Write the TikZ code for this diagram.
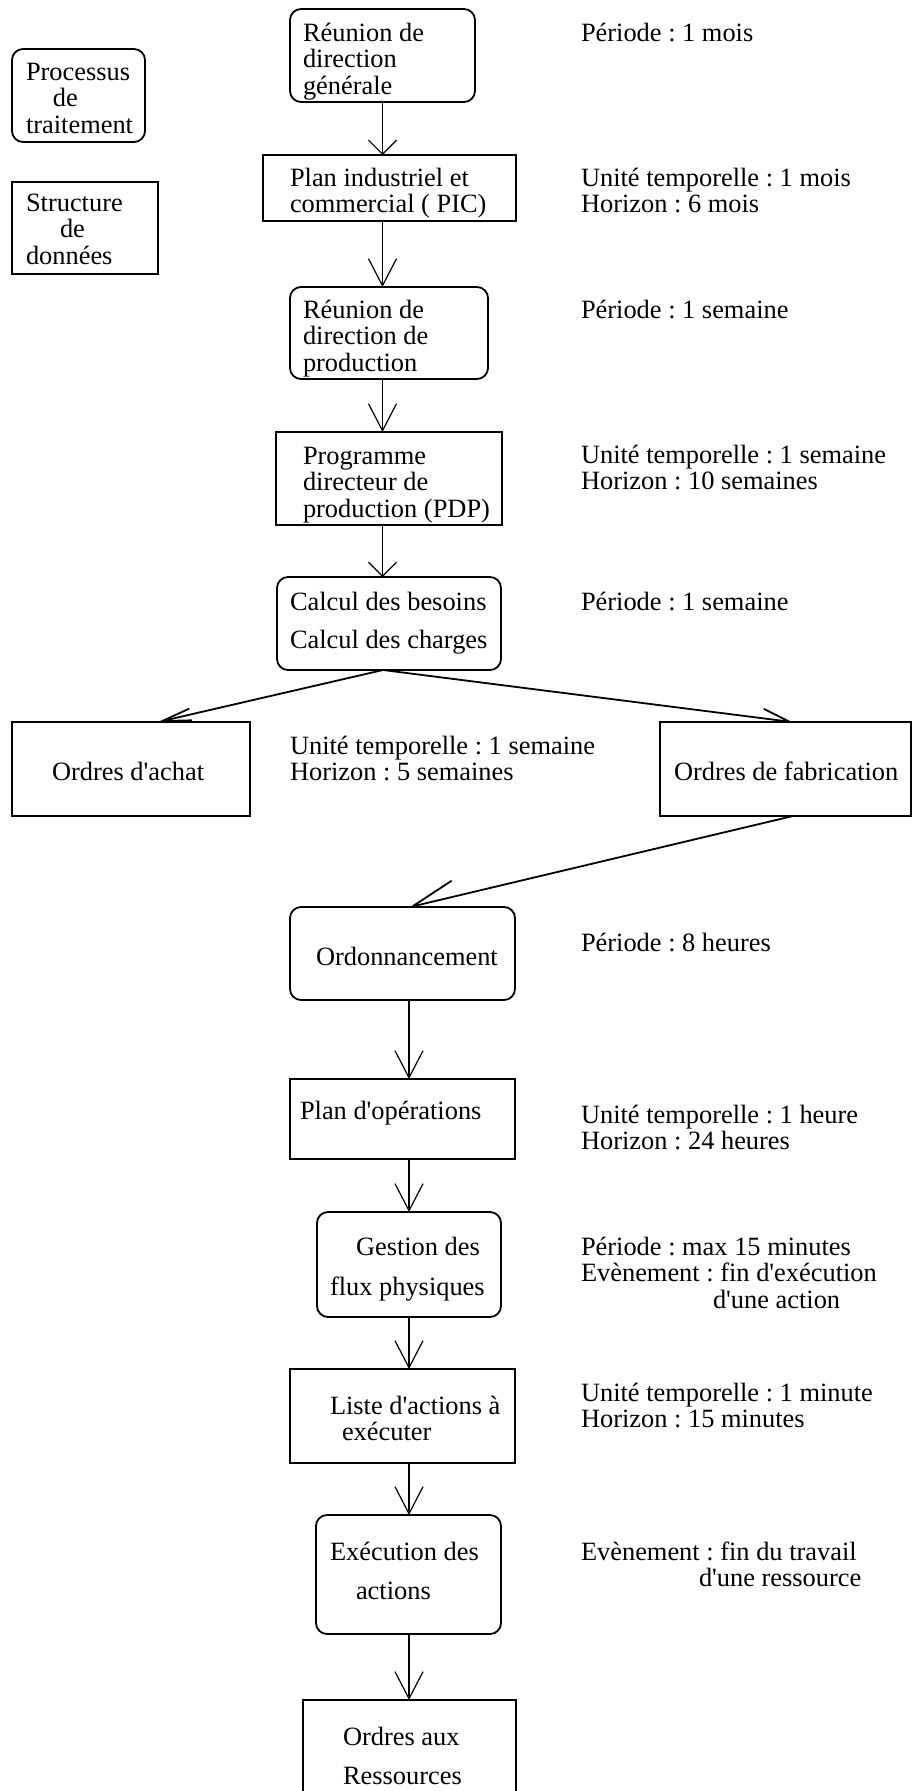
\documentclass[tikz,border=0pt]{standalone}
\usepackage{fontspec}
\setmainfont{Liberation Serif}[Ligatures=TeXOff]
\usetikzlibrary{arrows.meta,backgrounds}
\frenchspacing
\newcommand{\mylines}[1]{\begin{tabular}[t]{@{}l@{}}#1\end{tabular}}
\tikzset{
  box/.style={draw, line width=1.8pt, fill=white, inner sep=0pt, outer sep=0pt},
  rbox/.style={box, rounded corners=11pt},
  txt/.style={anchor=base west, inner sep=0pt, outer sep=0pt, font=\fontsize{26.4pt}{26.5pt}\selectfont},
  varr/.style={line width=1.2pt, -{Straight Barb[length=27pt,width=28pt]}},
  sarr/.style={line width=1.2pt, -{Straight Barb[length=14pt,width=28pt]}},
  darrL/.style={line width=1.8pt, -{Straight Barb[length=29pt,width=12pt]}},
  darrR/.style={line width=1.8pt, -{Straight Barb[length=27pt,width=19pt]}},
  darrO/.style={line width=1.8pt, -{Straight Barb[length=44pt,width=32pt]}},
}
\begin{document}
\frenchspacing
\begin{tikzpicture}[x=1pt,y=-1pt]
\useasboundingbox (0,0) rectangle (913,1791);
% boxes
\node[rbox, minimum width=133pt, minimum height=93pt] (proc) at (78.5,95.5) {};
\node[box,  minimum width=146pt, minimum height=92pt] (struc) at (85,228) {};
\node[rbox, minimum width=185pt, minimum height=93pt] (b1) at (382.5,55.5) {};
\node[box,  minimum width=253pt, minimum height=66pt] (pic) at (389.5,188) {};
\node[rbox, minimum width=198pt, minimum height=92pt] (rp) at (389,333) {};
\node[box,  minimum width=226pt, minimum height=93pt] (pdp) at (389,478.5) {};
\node[rbox, minimum width=224pt, minimum height=93pt] (calc) at (389,623.5) {};
\node[box,  minimum width=238pt, minimum height=94pt] (oa) at (131,769) {};
\node[box,  minimum width=251pt, minimum height=94pt] (of) at (785.5,769) {};
\node[rbox, minimum width=225pt, minimum height=93pt] (ordo) at (402.5,953.5) {};
\node[box,  minimum width=225pt, minimum height=80pt] (plan) at (402.5,1119) {};
\node[rbox, minimum width=184pt, minimum height=105pt] (gest) at (409,1264.5) {};
\node[box,  minimum width=225pt, minimum height=94pt] (liste) at (402.5,1416) {};
\node[rbox, minimum width=185pt, minimum height=119pt] (exec) at (408.5,1574.5) {};
\node[box,  minimum width=213pt, minimum height=140pt] (oress) at (409.5,1770) {};
% connectors
\begin{pgfonlayer}{background}
\draw[sarr] (b1.south) -- (b1.south |- pic.north);
\draw[varr] (b1.south |- pic.south) -- (b1.south |- rp.north);
\draw[varr] (b1.south |- rp.south) -- (b1.south |- pdp.north);
\draw[sarr] (b1.south |- pdp.south) -- (b1.south |- calc.north);
\draw[darrL] ([xshift=-6pt]calc.south) -- ([xshift=27pt]oa.north);
\draw[darrR] ([xshift=-6pt]calc.south) -- ([xshift=6.5pt]of.north);
\draw[darrO] ([xshift=7.5pt]of.south) -- ([xshift=7.5pt]ordo.north);
\draw[varr] (gest.north |- ordo.south) -- (gest.north |- plan.north);
\draw[varr] (gest.north |- plan.south) -- (gest.north);
\draw[varr] (gest.south) -- (gest.south |- liste.north);
\draw[varr] (gest.south |- liste.south) -- (gest.south |- exec.north);
\draw[varr] (gest.south |- exec.south) -- (gest.south |- oress.north);
\end{pgfonlayer}
% texts inside boxes
\node[txt] (tproc) at (26,80) {\mylines{Processus\\\hspace*{27pt}de\\traitement}};
\node[txt] (tstruc) at (26,211) {\mylines{Structure\\\hspace*{34pt}de\\données}};
\node[txt] (tb1) at (303,41) {\mylines{Réunion de\\direction\\générale}};
\node[txt] (tpic) at (290,186) {\mylines{Plan industriel et\\commercial ( PIC)}};
\node[txt] (trp) at (303,318) {\mylines{Réunion de\\direction de\\production}};
\node[txt] (tpdp) at (303,464) {\mylines{Programme\\directeur de\\production (PDP)}};
\node[txt] (tcalc) at (290,610) {\mylines{Calcul des besoins\\[11.5pt]Calcul des charges}};
\node[txt] (toa) at (52,780) {Ordres d'achat};
\node[txt] (tof) at (674,780) {Ordres de fabrication};
\node[txt] (tordo) at (316,965) {Ordonnancement};
\node[txt] (tplan) at (300,1119) {Plan d'opérations};
\node[txt] (tgest) at (330,1255) {\mylines{\hspace*{26pt}Gestion des\\[13.5pt]flux physiques}};
\node[txt] (tliste) at (330,1414) {\mylines{Liste d'actions à\\\hspace*{12pt}exécuter}};
\node[txt] (texec) at (330,1560) {\mylines{Exécution des\\[12.5pt]\hspace*{26pt}actions}};
\node[txt] (toress) at (343,1745) {\mylines{Ordres aux\\[12.5pt]Ressources}};
% side texts
\node[txt] (s1) at (581,41) {Période : 1 mois};
\node[txt] (s2) at (581,186) {\mylines{Unité temporelle : 1 mois\\Horizon : 6 mois}};
\node[txt] (s3) at (581,318) {Période : 1 semaine};
\node[txt] (s4) at (581,463) {\mylines{Unité temporelle : 1 semaine\\Horizon : 10 semaines}};
\node[txt] (s5) at (581,610) {Période : 1 semaine};
\node[txt] (s6) at (290,754) {\mylines{Unité temporelle : 1 semaine\\Horizon : 5 semaines}};
\node[txt] (s7) at (581,951) {Période : 8 heures};
\node[txt] (s8) at (581,1123) {\mylines{Unité temporelle : 1 heure\\Horizon : 24 heures}};
\node[txt] (s9) at (581,1255) {\mylines{Période : max 15 minutes\\Evènement : fin d'exécution\\\hspace*{132pt}d'une action}};
\node[txt] (s10) at (581,1401) {\mylines{Unité temporelle : 1 minute\\Horizon : 15 minutes}};
\node[txt] (s11) at (581,1560) {\mylines{Evènement : fin du travail\\\hspace*{118pt}d'une ressource}};
\end{tikzpicture}
\end{document}
